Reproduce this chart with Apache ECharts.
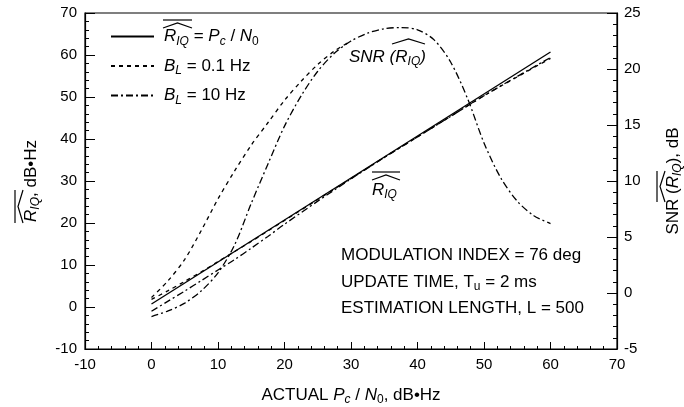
<!DOCTYPE html>
<html>
<head>
<meta charset="UTF-8">
<title>R_IQ estimate and SNR</title>
<script src="https://cdn.jsdelivr.net/npm/echarts@6/dist/echarts.min.js"></script>
<style>
  html, body { margin: 0; padding: 0; background: #fff; }
</style>
</head>
<body>
<div id="main" style="width:684px;height:407px"></div>
<script>
// actual Pc/N0 (dB-Hz) sample points
var xIdeal = [0, 60];
var rIdeal = [0.7, 60.7];

var xEst = [0, 2.5, 5, 7.5, 10, 12.5, 15, 17.5, 20, 25, 30, 35, 40, 45, 50, 55, 60];
var rEst01 = [1.8, 3.9, 6.1, 8.4, 10.8, 13.2, 15.6, 18.1, 20.6, 25.6, 30.6, 35.6, 40.5, 45.4, 50.3, 54.8, 59.2];
var rEst10 = [-1.0, 1.4, 3.8, 6.3, 8.8, 11.3, 14.0, 16.8, 19.7, 25.2, 30.5, 35.6, 40.5, 45.4, 50.3, 54.9, 59.4];

// SNR of the estimate (dB)
var xSnr01 = [0, 2.5, 5, 7.5, 10, 12.5, 15, 17.5, 20, 22.5, 25, 27.5, 30];
var snr01 = [-0.4, 1.1, 3.0, 5.6, 8.4, 10.9, 13.2, 15.2, 17.2, 18.9, 20.4, 21.6, 22.5];
var xSnr10 = [0, 2.5, 5, 7.5, 10, 12.5, 15, 17.5, 20, 22.5, 25, 27.5, 30, 32.5, 35, 37.5, 40, 42.5, 45, 47.5, 50, 52.5, 55, 57.5, 60];
var snr10 = [-2.1, -1.6, -0.9, 0.2, 1.8, 4.3, 8.0, 11.5, 14.9, 17.6, 19.8, 21.4, 22.5, 23.2, 23.6, 23.7, 23.5, 22.6, 20.6, 17.4, 13.4, 10.3, 8.2, 6.9, 6.2];

var xTicks = { min: -10, max: 70, interval: 10 };
var leftTicks = { min: -10, max: 70, interval: 10 };
var rightTicks = { min: -5, max: 25, interval: 5 };

function pairs(xs, ys) {
  return xs.map(function (x, i) { return [x, ys[i]]; });
}

var FONT = 'Liberation Sans';
var rich = {
  t: { fontFamily: FONT, fontSize: 17, color: '#000', lineHeight: 22 },
  i: { fontFamily: FONT, fontSize: 17, fontStyle: 'italic', color: '#000', lineHeight: 22 },
  i0: { fontFamily: FONT, fontSize: 17, fontStyle: 'italic', color: '#000', lineHeight: 22, padding: [0, 0, 0, 5] },
  s: { fontFamily: FONT, fontSize: 12, fontStyle: 'italic', color: '#000', lineHeight: 14, verticalAlign: 'bottom' },
  su: { fontFamily: FONT, fontSize: 12, color: '#000', lineHeight: 14, verticalAlign: 'bottom' }
};

var legendText = {
  ideal: '{i0|R}{s|IQ}{t| = }{i|P}{s|c}{t| / }{i|N}{su|0}',
  bl01: '{i0|B}{s|L}{t| = 0.1 Hz}',
  bl10: '{i0|B}{s|L}{t| = 10 Hz}'
};

var dashed = [4, 4];
var dashDot = [7, 3, 2, 3];

// hat + bar over R_IQ
function hat(x, y, w, rot, bar) {
  var kids = [{
    type: 'polyline',
    shape: { points: bar ? [[0, 8], [w / 2, 3], [w, 8]] : [[0, 5], [w / 2, 0], [w, 5]] },
    style: { stroke: '#000', fill: null, lineWidth: 1.2 }
  }];
  if (bar) {
    kids.push({ type: 'line', shape: { x1: 0, y1: 0, x2: w, y2: 0 }, style: { stroke: '#000', lineWidth: 1.2 } });
  }
  return { type: 'group', x: x, y: y, rotation: rot, children: kids, silent: true };
}

function note(x, y, text) {
  return { type: 'text', x: x, y: y, silent: true,
    style: { text: text, rich: rich, textVerticalAlign: 'middle', fill: '#000' } };
}

var chart = echarts.init(document.getElementById('main'));

var axisLine = { show: true, onZero: false, lineStyle: { color: '#000', width: 1.2 } };
var label = { color: '#000', fontFamily: FONT, fontSize: 15 };

var option = {
  animation: false,
  backgroundColor: '#fff',
  grid: {
    left: 85, right: 67, top: 13, bottom: 58,
    outerBoundsMode: 'none',
    show: true, borderColor: '#000', borderWidth: 1.2
  },
  legend: {
    data: ['ideal', 'bl01', 'bl10'],
    orient: 'vertical',
    left: 105,
    top: 23,
    itemWidth: 43,
    itemHeight: 14,
    itemGap: 10,
    selectedMode: false,
    itemStyle: { opacity: 0 },
    formatter: function (name) { return legendText[name]; },
    textStyle: { rich: rich }
  },
  xAxis: {
    type: 'value',
    min: xTicks.min, max: xTicks.max, interval: xTicks.interval,
    axisLine: axisLine,
    axisTick: { inside: true, length: 7, lineStyle: { color: '#000' } },
    minorTick: { show: true, splitNumber: 5, length: 3, lineStyle: { color: '#000' } },
    splitLine: { show: false },
    axisLabel: Object.assign({ margin: 8 }, label),
    name: '{t|ACTUAL }{i|P}{s|c}{t| / }{i|N}{su|0}{t|, dB\u2022Hz}',
    nameLocation: 'middle',
    nameGap: 35,
    nameTextStyle: { rich: rich }
  },
  yAxis: [{
    type: 'value',
    min: leftTicks.min, max: leftTicks.max, interval: leftTicks.interval,
    axisLine: axisLine,
    axisTick: { inside: true, length: 10, lineStyle: { color: '#000' } },
    minorTick: { show: true, splitNumber: 5, length: 4, lineStyle: { color: '#000' } },
    splitLine: { show: false },
    axisLabel: Object.assign({ margin: 8 }, label),
    name: '{i|R}{s|IQ}{t|, dB\u2022Hz}',
    nameLocation: 'middle',
    nameRotate: 90,
    nameGap: 43,
    nameTextStyle: { rich: rich }
  }, {
    type: 'value',
    position: 'right',
    min: rightTicks.min, max: rightTicks.max, interval: rightTicks.interval,
    axisLine: axisLine,
    axisTick: { inside: true, length: 10, lineStyle: { color: '#000' } },
    minorTick: { show: true, splitNumber: 5, length: 4, lineStyle: { color: '#000' } },
    splitLine: { show: false },
    axisLabel: Object.assign({ margin: 7 }, label),
    name: '{t|SNR (}{i|R}{s|IQ}{t|), dB}',
    nameLocation: 'middle',
    nameRotate: 90,
    nameGap: 45,
    nameTextStyle: { rich: rich }
  }],
  series: [{
    name: 'ideal', type: 'line', yAxisIndex: 0, symbol: 'none',
    lineStyle: { color: '#000', width: 1.3, type: 'solid' },
    itemStyle: { color: '#000' },
    data: pairs(xIdeal, rIdeal)
  }, {
    name: 'bl01', type: 'line', yAxisIndex: 0, symbol: 'none', smooth: 0.3,
    lineStyle: { color: '#000', width: 1.3, type: dashed },
    itemStyle: { color: '#000' },
    data: pairs(xEst, rEst01)
  }, {
    name: 'bl10', type: 'line', yAxisIndex: 0, symbol: 'none', smooth: 0.3,
    lineStyle: { color: '#000', width: 1.3, type: dashDot },
    itemStyle: { color: '#000' },
    data: pairs(xEst, rEst10)
  }, {
    name: 'bl01', type: 'line', yAxisIndex: 1, symbol: 'none', smooth: 0.3,
    lineStyle: { color: '#000', width: 1.3, type: dashed },
    itemStyle: { color: '#000' },
    data: pairs(xSnr01, snr01)
  }, {
    name: 'bl10', type: 'line', yAxisIndex: 1, symbol: 'none', smooth: 0.3,
    lineStyle: { color: '#000', width: 1.3, type: dashDot },
    itemStyle: { color: '#000' },
    data: pairs(xSnr10, snr10)
  }],
  graphic: [
    note(341, 255, '{t|MODULATION INDEX = 76 deg}'),
    note(341, 282, '{t|UPDATE TIME, T}{su|u}{t| = 2 ms}'),
    note(341, 308, '{t|ESTIMATION LENGTH, L = 500}'),
    note(349, 57, '{i|SNR (R}{s|IQ}{i|)}'),
    note(372, 190, '{i|R}{s|IQ}'),
    hat(163, 20, 29, 0, true),
    hat(372, 172, 28, 0, true),
    hat(392, 39, 33, 0, false),
    hat(15, 223, 33, Math.PI / 2, true),
    hat(657, 202, 31, Math.PI / 2, true)
  ]
};

chart.setOption(option);
</script>
</body>
</html>
